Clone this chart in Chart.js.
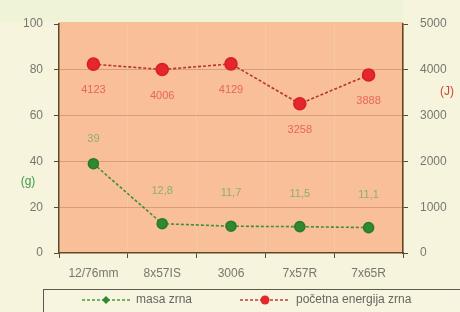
<!DOCTYPE html>
<html>
<head>
<meta charset="utf-8">
<script src="https://cdn.jsdelivr.net/npm/chart.js@4/dist/chart.umd.min.js"></script>
<style>
  html, body { margin: 0; padding: 0; background: #f6f4dc; }
  #wrap { width: 460px; height: 312px; }
</style>
</head>
<body>
<div id="wrap"><canvas id="chart" width="460" height="312"></canvas></div>
<script>
/* cartridge comparison: bullet mass vs initial energy */

const cartridges = ["12/76mm", "8x57IS", "3006", "7x57R", "7x65R"];
const massValues = [39, 12.8, 11.7, 11.5, 11.1];
const massLabels = ["39", "12,8", "11,7", "11,5", "11,1"];
const energyValues = [4123, 4006, 4129, 3258, 3888];
const energyLabels = ["4123", "4006", "4129", "3258", "3888"];
const massTicks = [0, 20, 40, 60, 80, 100];
const energyTicks = [0, 1000, 2000, 3000, 4000, 5000];

const FONT = "'Liberation Sans', Arial, sans-serif";
const GREEN = "#2f8a2f";
const RED = "#e5262b";

// plot background + strips
const backdrop = {
  id: "backdrop",
  beforeDraw(chart) {
    const { ctx, chartArea: a } = chart;
    ctx.save();
    ctx.fillStyle = "#f6f4dc";
    ctx.fillRect(0, 0, chart.width, chart.height);
    ctx.fillStyle = "#eff4d6";
    ctx.fillRect(0, 0, a.right, a.top - 2);
    ctx.fillStyle = "#f8bf98";
    ctx.fillRect(a.left, a.top - 2, a.right - a.left, a.bottom - a.top + 2);
    ctx.restore();
  },
};

// value labels, axis unit titles and the boxed legend
const extras = {
  id: "extras",
  afterDatasetsDraw(chart) {
    const { ctx } = chart;
    ctx.save();
    ctx.font = "11px " + FONT;
    ctx.textAlign = "center";
    ctx.textBaseline = "middle";

    const mMeta = chart.getDatasetMeta(0);
    ctx.fillStyle = "#8fae72";
    mMeta.data.forEach((pt, i) => {
      const dy = i === 0 ? -25 : -33;
      ctx.fillText(massLabels[i], pt.x, pt.y + dy);
    });

    const eMeta = chart.getDatasetMeta(1);
    ctx.fillStyle = "#e8665a";
    eMeta.data.forEach((pt, i) => {
      ctx.fillText(energyLabels[i], pt.x, pt.y + 26);
    });

    ctx.font = "12px " + FONT;
    ctx.fillStyle = "#3c9a4c";
    ctx.fillText("(g)", 28, 182);
    ctx.fillStyle = "#d2443a";
    ctx.fillText("(J)", 447, 92);

    // legend box
    ctx.fillStyle = "#f7f5e0";
    ctx.fillRect(43.5, 289.5, 430, 30);
    ctx.strokeStyle = "#5a5a50";
    ctx.lineWidth = 1;
    ctx.strokeRect(43.5, 289.5, 430, 30);

    const ly = 300;
    const items = [
      { x0: 82, x1: 130, color: GREEN, line: "#4a9a3a", shape: "diamond", text: chart.data.datasets[0].label },
      { x0: 240, x1: 290, color: RED, line: "#b8403a", shape: "circle", text: chart.data.datasets[1].label },
    ];
    items.forEach((it) => {
      ctx.strokeStyle = it.line;
      ctx.lineWidth = 1.3;
      ctx.setLineDash([3, 2]);
      ctx.beginPath();
      ctx.moveTo(it.x0, ly);
      ctx.lineTo(it.x1, ly);
      ctx.stroke();
      ctx.setLineDash([]);
      const cx = (it.x0 + it.x1) / 2;
      ctx.fillStyle = it.color;
      ctx.beginPath();
      if (it.shape === "diamond") {
        ctx.moveTo(cx, ly - 4);
        ctx.lineTo(cx + 4, ly);
        ctx.lineTo(cx, ly + 4);
        ctx.lineTo(cx - 4, ly);
        ctx.closePath();
      } else {
        ctx.arc(cx, ly, 4.5, 0, Math.PI * 2);
      }
      ctx.fill();
      ctx.fillStyle = "#666660";
      ctx.textAlign = "left";
      ctx.font = "12px " + FONT;
      ctx.fillText(it.text, it.x1 + 6, ly);
    });
    ctx.restore();
  },
};

new Chart(document.getElementById("chart").getContext("2d"), {
  type: "line",
  data: {
    labels: cartridges,
    datasets: [
      {
        label: "masa zrna",
        data: massValues,
        yAxisID: "y",
        borderColor: "#3f8f35",
        borderWidth: 1.6,
        borderDash: [3, 2],
        pointBackgroundColor: GREEN,
        pointBorderColor: "#2a7a2a",
        pointRadius: 5,
        pointStyle: "circle",
        tension: 0,
      },
      {
        label: "početna energija zrna",
        data: energyValues,
        yAxisID: "y1",
        borderColor: "#b8342e",
        borderWidth: 1.6,
        borderDash: [3, 2],
        pointBackgroundColor: RED,
        pointBorderColor: "#d82025",
        pointRadius: 6,
        tension: 0,
      },
    ],
  },
  options: {
    responsive: false,
    animation: false,
    layout: { padding: { top: 24, left: 0, right: 0, bottom: 0 } },
    plugins: { legend: { display: false }, tooltip: { enabled: false } },
    scales: {
      x: {
        offset: true,
        grid: {
          offset: true,
          color: "#f5c8a6",
          tickLength: 5,
          tickColor: "#5a4a2a",
        },
        border: { color: "#5a4a2a", width: 1.5 },
        ticks: { color: "#777770", font: { family: FONT, size: 12 }, padding: 8 },
        afterFit(scale) { scale.height = 59; },
      },
      y: {
        position: "left",
        min: 0,
        max: 100,
        afterBuildTicks(scale) { scale.ticks = massTicks.map((v) => ({ value: v })); },
        grid: {
          color: (c) => (c.tick && (c.tick.value === 0 || c.tick.value === 100) ? "rgba(0,0,0,0)" : "#d99c7c"),
          tickLength: 5,
          tickColor: "#5a4a2a",
        },
        border: { color: "#5a4a2a", width: 1.5 },
        ticks: { color: "#777770", font: { family: FONT, size: 12 }, padding: 11, callback: (v) => String(v) },
        afterFit(scale) { scale.width = 59; },
      },
      y1: {
        position: "right",
        min: 0,
        max: 5000,
        afterBuildTicks(scale) { scale.ticks = energyTicks.map((v) => ({ value: v })); },
        grid: { drawOnChartArea: false, tickLength: 5, tickColor: "#5a4a2a" },
        border: { color: "#5a4a2a", width: 1.5 },
        ticks: { color: "#777770", font: { family: FONT, size: 12 }, padding: 12, callback: (v) => String(v) },
        afterFit(scale) { scale.width = 57; },
      },
    },
  },
  plugins: [backdrop, extras],
});
</script>
</body>
</html>
